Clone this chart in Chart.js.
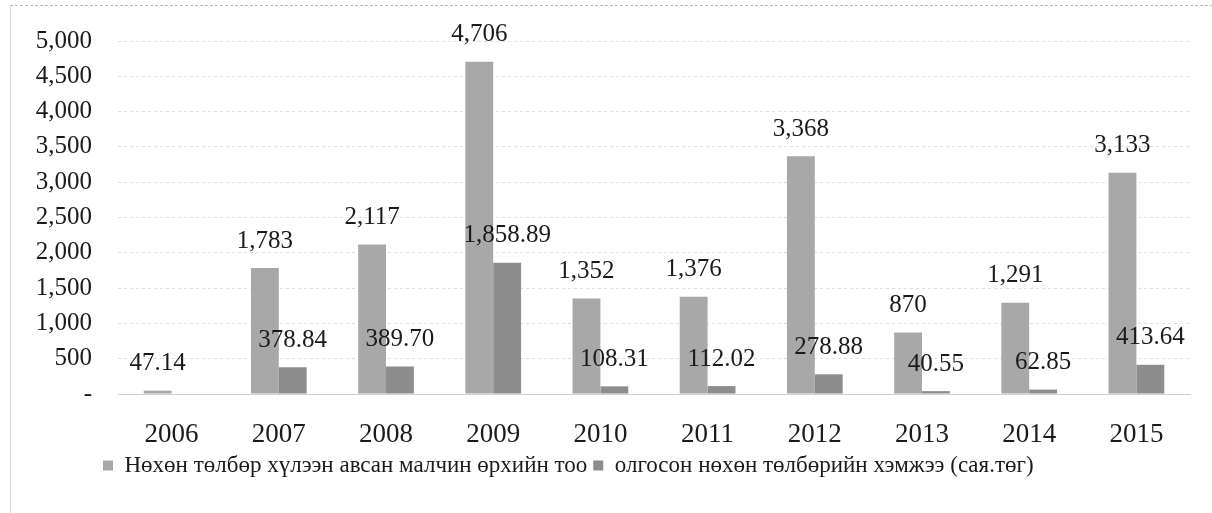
<!DOCTYPE html>
<html>
<head>
<meta charset="utf-8">
<script src="https://cdn.jsdelivr.net/npm/chart.js@4"></script>
<style>
  body { margin: 0; background: #fff; }
  .wrap { position: relative; width: 1212px; height: 513px; }
  .frame { position: absolute; left: 10px; top: 5px; width: 1202px; height: 508px;
           border-top: 1px dashed #b5b5b5; border-left: 1px solid #d8d8d8; }
  canvas { position: absolute; left: 0; top: 0; }
</style>
</head>
<body>
<div class="wrap">
  <div class="frame"></div>
  <canvas id="myChart" width="1212" height="513"></canvas>
</div>
<script>
const years = ['2006', '2007', '2008', '2009', '2010', '2011', '2012', '2013', '2014', '2015'];
const households = [47.14, 1783, 2117, 4706, 1352, 1376, 3368, 870, 1291, 3133];
const payments = [null, 378.84, 389.70, 1858.89, 108.31, 112.02, 278.88, 40.55, 62.85, 413.64];
const seriesNames = [
  'Нөхөн төлбөр хүлээн авсан малчин өрхийн тоо',
  'олгосон нөхөн төлбөрийн хэмжээ (сая.төг)'
];
const seriesColors = ['#a8a8a8', '#8d8d8d'];

const serif = '"Liberation Serif", "Times New Roman", serif';

function formatValue(v) {
  if (Number.isInteger(v)) {
    return v.toLocaleString('en-US');
  }
  return v.toLocaleString('en-US', { minimumFractionDigits: 2, maximumFractionDigits: 2 });
}

// draw the number above each bar
const barLabels = {
  id: 'barLabels',
  afterDatasetsDraw(chart) {
    const ctx = chart.ctx;
    ctx.save();
    ctx.font = '25px ' + serif;
    ctx.fillStyle = '#1a1a1a';
    ctx.textAlign = 'center';
    ctx.textBaseline = 'middle';
    chart.data.datasets.forEach((ds, i) => {
      const meta = chart.getDatasetMeta(i);
      meta.data.forEach((bar, j) => {
        const v = ds.data[j];
        if (v === null || v === undefined) return;
        ctx.fillText(formatValue(v), bar.x, bar.y - 27);
      });
    });
    ctx.restore();
  }
};

// legend in the original sits a bit left of centre, under the y labels
const legendShift = {
  id: 'legendShift',
  afterLayout(chart) {
    chart.legend.left = 97;
  }
};

const ctx = document.getElementById('myChart').getContext('2d');

new Chart(ctx, {
  type: 'bar',
  data: {
    labels: years,
    datasets: [
      {
        label: seriesNames[0],
        data: households,
        backgroundColor: seriesColors[0],
        categoryPercentage: 0.52,
        barPercentage: 1
      },
      {
        label: seriesNames[1],
        data: payments,
        backgroundColor: seriesColors[1],
        categoryPercentage: 0.52,
        barPercentage: 1
      }
    ]
  },
  options: {
    responsive: false,
    animation: false,
    layout: { padding: { left: 0, right: 22, top: 41, bottom: 26 } },
    plugins: {
      legend: {
        position: 'bottom',
        align: 'start',
        labels: {
          font: { family: serif, size: 23 },
          color: '#1a1a1a',
          boxWidth: 10,
          boxHeight: 10,
          padding: 6
        }
      },
      tooltip: { enabled: false }
    },
    scales: {
      x: {
        grid: { display: false },
        border: { display: true, color: '#cfcfcf', dash: [3, 3] },
        ticks: { font: { family: serif, size: 27 }, color: '#1a1a1a', padding: 17 },
        afterFit(scale) { scale.height = 54; }
      },
      y: {
        min: 0,
        max: 5000,
        border: { display: false, dash: [3, 3] },
        grid: { color: '#dedede', drawTicks: false },
        ticks: {
          stepSize: 500,
          padding: 26,
          font: { family: serif, size: 25 },
          color: '#1a1a1a',
          callback: (v) => v === 0 ? '-' : v.toLocaleString('en-US')
        },
        afterFit(scale) { scale.width = 118; }
      }
    }
  },
  plugins: [barLabels, legendShift]
});
</script>
</body>
</html>
